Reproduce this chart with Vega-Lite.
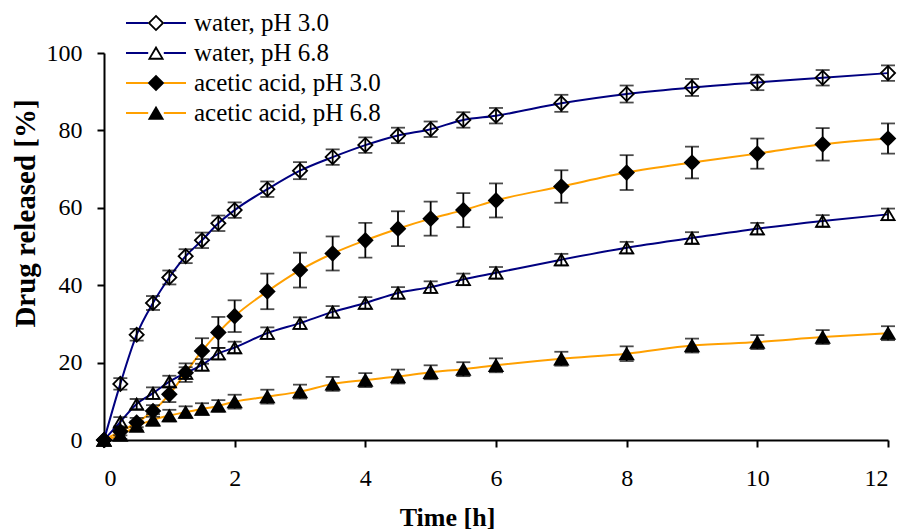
{
  "$schema": "https://vega.github.io/schema/vega-lite/v6.json",
  "width": 784,
  "height": 387,
  "autosize": {"type": "none"},
  "padding": {"left": 104, "top": 53, "right": 13, "bottom": 91},
  "background": "white",
  "config": {
    "view": {"stroke": null},
    "font": "Liberation Serif",
    "axis": {
      "grid": false,
      "domainColor": "black",
      "domainWidth": 2,
      "tickColor": "black",
      "tickWidth": 2,
      "tickSize": 7,
      "labelFont": "Liberation Serif",
      "labelFontSize": 24,
      "labelColor": "black",
      "titleFont": "Liberation Serif",
      "titleFontWeight": "bold",
      "titleColor": "black"
    }
  },
  "datasets": {
    "release": [
      {"series": "water, pH 3.0", "time": 0, "value": 0, "err": 0},
      {"series": "water, pH 3.0", "time": 0.25, "value": 14.5, "err": 1.5},
      {"series": "water, pH 3.0", "time": 0.5, "value": 27.2, "err": 1.5},
      {"series": "water, pH 3.0", "time": 0.75, "value": 35.4, "err": 1.8},
      {"series": "water, pH 3.0", "time": 1, "value": 42, "err": 1.8},
      {"series": "water, pH 3.0", "time": 1.25, "value": 47.5, "err": 1.8},
      {"series": "water, pH 3.0", "time": 1.5, "value": 51.6, "err": 2},
      {"series": "water, pH 3.0", "time": 1.75, "value": 56, "err": 2},
      {"series": "water, pH 3.0", "time": 2, "value": 59.4, "err": 2},
      {"series": "water, pH 3.0", "time": 2.5, "value": 64.8, "err": 2},
      {"series": "water, pH 3.0", "time": 3, "value": 69.6, "err": 2.2},
      {"series": "water, pH 3.0", "time": 3.5, "value": 73.1, "err": 2},
      {"series": "water, pH 3.0", "time": 4, "value": 76.2, "err": 2},
      {"series": "water, pH 3.0", "time": 4.5, "value": 78.7, "err": 2},
      {"series": "water, pH 3.0", "time": 5, "value": 80.3, "err": 2},
      {"series": "water, pH 3.0", "time": 5.5, "value": 82.7, "err": 2},
      {"series": "water, pH 3.0", "time": 6, "value": 83.8, "err": 2},
      {"series": "water, pH 3.0", "time": 7, "value": 87, "err": 2.2},
      {"series": "water, pH 3.0", "time": 8, "value": 89.4, "err": 2.2},
      {"series": "water, pH 3.0", "time": 9, "value": 91.1, "err": 2.2},
      {"series": "water, pH 3.0", "time": 10, "value": 92.4, "err": 2},
      {"series": "water, pH 3.0", "time": 11, "value": 93.6, "err": 2},
      {"series": "water, pH 3.0", "time": 12, "value": 94.8, "err": 2},
      {"series": "water, pH 6.8", "time": 0, "value": 0, "err": 0},
      {"series": "water, pH 6.8", "time": 0.25, "value": 4.7, "err": 1.2},
      {"series": "water, pH 6.8", "time": 0.5, "value": 9.3, "err": 1.3},
      {"series": "water, pH 6.8", "time": 0.75, "value": 12.1, "err": 1.5},
      {"series": "water, pH 6.8", "time": 1, "value": 15.1, "err": 1.5},
      {"series": "water, pH 6.8", "time": 1.25, "value": 17.3, "err": 1.5},
      {"series": "water, pH 6.8", "time": 1.5, "value": 19.4, "err": 1.5},
      {"series": "water, pH 6.8", "time": 1.75, "value": 22.3, "err": 1.5},
      {"series": "water, pH 6.8", "time": 2, "value": 23.9, "err": 1.5},
      {"series": "water, pH 6.8", "time": 2.5, "value": 27.6, "err": 1.5},
      {"series": "water, pH 6.8", "time": 3, "value": 30.2, "err": 1.5},
      {"series": "water, pH 6.8", "time": 3.5, "value": 33.1, "err": 1.5},
      {"series": "water, pH 6.8", "time": 4, "value": 35.4, "err": 1.5},
      {"series": "water, pH 6.8", "time": 4.5, "value": 38, "err": 1.5},
      {"series": "water, pH 6.8", "time": 5, "value": 39.5, "err": 1.5},
      {"series": "water, pH 6.8", "time": 5.5, "value": 41.5, "err": 1.5},
      {"series": "water, pH 6.8", "time": 6, "value": 43.2, "err": 1.5},
      {"series": "water, pH 6.8", "time": 7, "value": 46.6, "err": 1.5},
      {"series": "water, pH 6.8", "time": 8, "value": 49.7, "err": 1.5},
      {"series": "water, pH 6.8", "time": 9, "value": 52.2, "err": 1.5},
      {"series": "water, pH 6.8", "time": 10, "value": 54.6, "err": 1.5},
      {"series": "water, pH 6.8", "time": 11, "value": 56.6, "err": 1.5},
      {"series": "water, pH 6.8", "time": 12, "value": 58.3, "err": 1.5},
      {"series": "acetic acid, pH 3.0", "time": 0, "value": 0, "err": 0},
      {"series": "acetic acid, pH 3.0", "time": 0.25, "value": 2.2, "err": 1},
      {"series": "acetic acid, pH 3.0", "time": 0.5, "value": 4.5, "err": 1.2},
      {"series": "acetic acid, pH 3.0", "time": 0.75, "value": 7.5, "err": 1.5},
      {"series": "acetic acid, pH 3.0", "time": 1, "value": 11.8, "err": 2},
      {"series": "acetic acid, pH 3.0", "time": 1.25, "value": 17.4, "err": 2.4},
      {"series": "acetic acid, pH 3.0", "time": 1.5, "value": 23, "err": 3.3},
      {"series": "acetic acid, pH 3.0", "time": 1.75, "value": 27.8, "err": 4},
      {"series": "acetic acid, pH 3.0", "time": 2, "value": 32, "err": 4.1},
      {"series": "acetic acid, pH 3.0", "time": 2.5, "value": 38.4, "err": 4.6},
      {"series": "acetic acid, pH 3.0", "time": 3, "value": 43.9, "err": 4.5},
      {"series": "acetic acid, pH 3.0", "time": 3.5, "value": 48.2, "err": 4.4},
      {"series": "acetic acid, pH 3.0", "time": 4, "value": 51.6, "err": 4.5},
      {"series": "acetic acid, pH 3.0", "time": 4.5, "value": 54.6, "err": 4.5},
      {"series": "acetic acid, pH 3.0", "time": 5, "value": 57.2, "err": 4.4},
      {"series": "acetic acid, pH 3.0", "time": 5.5, "value": 59.4, "err": 4.4},
      {"series": "acetic acid, pH 3.0", "time": 6, "value": 61.9, "err": 4.4},
      {"series": "acetic acid, pH 3.0", "time": 7, "value": 65.5, "err": 4.2},
      {"series": "acetic acid, pH 3.0", "time": 8, "value": 69.1, "err": 4.5},
      {"series": "acetic acid, pH 3.0", "time": 9, "value": 71.7, "err": 4.1},
      {"series": "acetic acid, pH 3.0", "time": 10, "value": 74, "err": 3.9},
      {"series": "acetic acid, pH 3.0", "time": 11, "value": 76.4, "err": 4.2},
      {"series": "acetic acid, pH 3.0", "time": 12, "value": 77.9, "err": 3.9},
      {"series": "acetic acid, pH 6.8", "time": 0, "value": 0, "err": 0},
      {"series": "acetic acid, pH 6.8", "time": 0.25, "value": 1.3, "err": 1},
      {"series": "acetic acid, pH 6.8", "time": 0.5, "value": 3.6, "err": 1.2},
      {"series": "acetic acid, pH 6.8", "time": 0.75, "value": 5.2, "err": 1.5},
      {"series": "acetic acid, pH 6.8", "time": 1, "value": 6.3, "err": 1.5},
      {"series": "acetic acid, pH 6.8", "time": 1.25, "value": 7.2, "err": 1.5},
      {"series": "acetic acid, pH 6.8", "time": 1.5, "value": 8, "err": 1.5},
      {"series": "acetic acid, pH 6.8", "time": 1.75, "value": 8.8, "err": 1.5},
      {"series": "acetic acid, pH 6.8", "time": 2, "value": 9.9, "err": 1.8},
      {"series": "acetic acid, pH 6.8", "time": 2.5, "value": 11.2, "err": 1.8},
      {"series": "acetic acid, pH 6.8", "time": 3, "value": 12.5, "err": 1.8},
      {"series": "acetic acid, pH 6.8", "time": 3.5, "value": 14.5, "err": 1.8},
      {"series": "acetic acid, pH 6.8", "time": 4, "value": 15.5, "err": 1.8},
      {"series": "acetic acid, pH 6.8", "time": 4.5, "value": 16.4, "err": 1.8},
      {"series": "acetic acid, pH 6.8", "time": 5, "value": 17.5, "err": 1.8},
      {"series": "acetic acid, pH 6.8", "time": 5.5, "value": 18.3, "err": 1.8},
      {"series": "acetic acid, pH 6.8", "time": 6, "value": 19.3, "err": 1.8},
      {"series": "acetic acid, pH 6.8", "time": 7, "value": 21, "err": 1.8},
      {"series": "acetic acid, pH 6.8", "time": 8, "value": 22.3, "err": 1.9},
      {"series": "acetic acid, pH 6.8", "time": 9, "value": 24.4, "err": 1.8},
      {"series": "acetic acid, pH 6.8", "time": 10, "value": 25.3, "err": 1.8},
      {"series": "acetic acid, pH 6.8", "time": 11, "value": 26.6, "err": 1.8},
      {"series": "acetic acid, pH 6.8", "time": 12, "value": 27.6, "err": 1.8}
    ]
  },
  "data": {"name": "release"},
  "encoding": {
    "x": {
      "field": "time",
      "type": "quantitative",
      "scale": {"domain": [0, 12], "nice": false, "zero": false},
      "axis": {
        "title": "Time [h]",
        "values": [0, 2, 4, 6, 8, 10, 12],
        "labelFont": "Liberation Serif",
        "labelFontSize": 24,
        "labelPadding": 19,
        "labelBaseline": "top",
        "titleFontSize": 26,
        "titleX": 343,
        "titleY": 85,
        "titleAlign": "center",
        "titleAnchor": null,
        "titleBaseline": "alphabetic"
      }
    },
    "y": {
      "field": "value",
      "type": "quantitative",
      "scale": {"domain": [0, 100], "nice": false},
      "axis": {
        "title": "Drug released [%]",
        "values": [0, 20, 40, 60, 80, 100],
        "labelFont": "Liberation Serif",
        "labelFontSize": 24,
        "labelPadding": 15,
        "titleFontSize": 29,
        "titleAngle": -90,
        "titleX": -79,
        "titleY": 160,
        "titleAlign": "center",
        "titleAnchor": null,
        "titleBaseline": "middle"
      }
    }
  },
  "layer": [
    {
      "mark": {"type": "line", "interpolate": "monotone", "strokeWidth": 2},
      "encoding": {
        "stroke": {
          "field": "series",
          "type": "nominal",
          "sort": ["water, pH 3.0", "water, pH 6.8", "acetic acid, pH 3.0", "acetic acid, pH 6.8"],
          "scale": {
            "range": ["#000080", "#000080", "#FFA000", "#FFA000"]
          },
          "legend": {
            "orient": "none",
            "legendX": 39.5,
            "legendY": -42.5,
            "title": null,
            "padding": 0,
            "direction": "vertical",
            "columns": 1,
            "symbolType": "M-10,0H-2.6M2.6,0H10",
            "symbolSize": 36,
            "symbolStrokeWidth": 2,
            "symbolOffset": 0,
            "labelFont": "Liberation Serif",
            "labelFontSize": 25,
            "labelColor": "black",
            "labelOffset": 25.5,
            "labelLimit": 400,
            "rowPadding": 4
          }
        }
      }
    },
    {
      "mark": {"type": "point", "filled": true, "color": "black", "fill": "black", "strokeWidth": 0, "size": 230, "opacity": 1},
      "encoding": {
        "shape": {
          "field": "series",
          "type": "nominal",
          "scale": {
            "domain": ["water, pH 3.0", "water, pH 6.8", "acetic acid, pH 3.0", "acetic acid, pH 6.8"],
            "range": [
              "M-1.1,0L0,-1.1L1.1,0L0,1.1ZM-0.76,0L0,0.76L0.76,0L0,-0.76Z",
              "M0,-0.95L1.08,0.88L-1.08,0.88ZM0,-0.478L-0.66,0.64L0.66,0.64Z",
              "M-1.1,0L0,-1.1L1.1,0L0,1.1Z",
              "M0,-0.95L1.08,0.88L-1.08,0.88Z"
            ]
          },
          "legend": {
            "orient": "none",
            "legendX": 39.5,
            "legendY": -42.5,
            "title": null,
            "padding": 0,
            "direction": "vertical",
            "columns": 1,
            "symbolSize": 230,
            "symbolFillColor": "black",
            "symbolStrokeWidth": 0,
            "symbolOffset": 0,
            "labelFont": "Liberation Serif",
            "labelFontSize": 25,
            "labelColor": "transparent",
            "labelOffset": 25.5,
            "labelLimit": 400,
            "rowPadding": 4
          }
        }
      }
    },
    {
      "transform": [{"filter": "datum.time > 0"}],
      "mark": {
        "type": "errorbar",
        "ticks": {"size": 14, "color": "black"},
        "rule": {"color": "black"},
        "thickness": 1.8
      },
      "encoding": {
        "y": {"field": "value", "type": "quantitative"},
        "yError": {"field": "err"}
      }
    }
  ]
}
